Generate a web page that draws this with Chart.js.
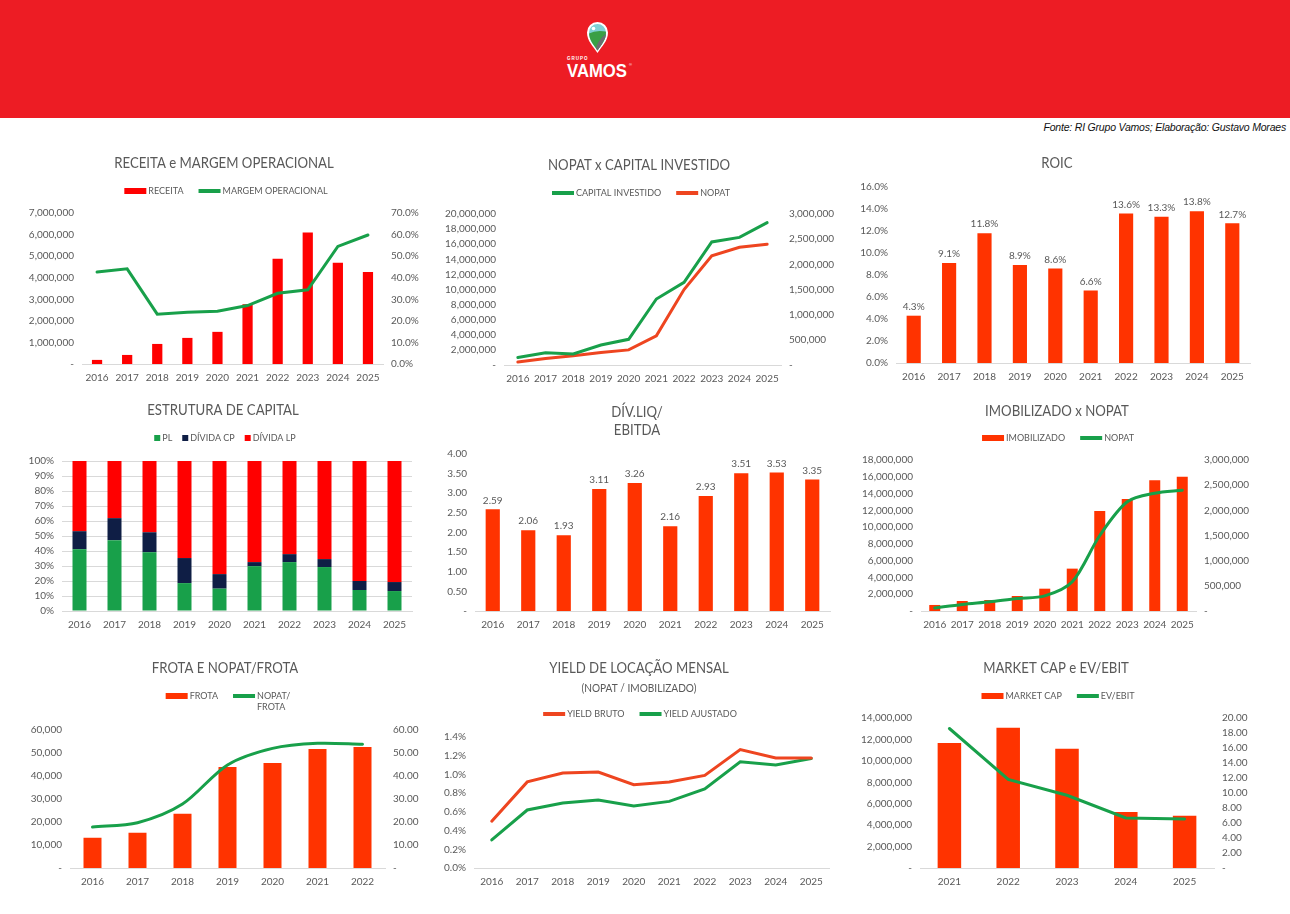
<!DOCTYPE html>
<html>
<head>
<meta charset="utf-8">
<title>Grupo Vamos</title>
<script src="https://cdn.jsdelivr.net/npm/chart.js@4.4.1/dist/chart.umd.min.js"></script>
<style>
html, body { margin: 0; padding: 0; background: #fff; }
body { width: 1290px; height: 914px; position: relative; overflow: hidden; font-family: Lato, sans-serif; }
#header { position: absolute; left: 0; top: 0; width: 1290px; height: 118px; background: #ED1C24; }
#logo { position: absolute; left: 560px; top: 15px; }
#fonte { position: absolute; right: 4px; top: 121px; font: italic 10.5px 'Liberation Sans Narrow', 'Liberation Sans', sans-serif; color: #111; letter-spacing: -0.2px; }
canvas { position: absolute; }
</style>
</head>
<body>
<div id="header"></div>
<svg id="logo" width="80" height="70" viewBox="0 0 80 70">
  <defs>
    <clipPath id="pin"><path d="M37.5 35.5 C34 30 29 25.5 29 17.5 A8.5 8.5 0 1 1 46 17.5 C46 25.5 41 30 37.5 35.5 Z"/></clipPath>
  </defs>
  <path d="M37.5 38 C33 31 27 26 27 17.5 A10.5 10.5 0 1 1 48 17.5 C48 26 42 31 37.5 38 Z" fill="#fff"/>
  <g clip-path="url(#pin)">
    <rect x="27" y="6" width="22" height="32" fill="#7FD0D6"/>
    <path d="M27 20 Q34 14 49 17 L49 38 L27 38 Z" fill="#3A9F45"/>
    <path d="M35 38 Q36 26 47 18 L49 19.5 Q40 27 40.5 38 Z" fill="#6B6D70"/>
  </g>
  <circle cx="33.5" cy="13.5" r="1.8" fill="#fff"/>
  <text x="7" y="45" font-family="Liberation Sans" font-weight="bold" font-size="4.5" fill="#fff" letter-spacing="1">GRUPO</text>
  <text x="7" y="62" font-family="Liberation Sans" font-weight="bold" font-size="19" fill="#fff" textLength="60" lengthAdjust="spacingAndGlyphs">VAMOS</text>
  <text x="69" y="51" font-family="Liberation Sans" font-size="4" fill="#fff">®</text>
</svg>
<div id="fonte">Fonte: RI Grupo Vamos; Elaboração: Gustavo Moraes</div>

<canvas id="c1"></canvas>
<canvas id="c2"></canvas>
<canvas id="c3"></canvas>
<canvas id="c4"></canvas>
<canvas id="c5"></canvas>
<canvas id="c6"></canvas>
<canvas id="c7"></canvas>
<canvas id="c8"></canvas>
<canvas id="c9"></canvas>

<script>
// ---- data ----
const years = ['2016', '2017', '2018', '2019', '2020', '2021', '2022', '2023', '2024', '2025'];
const receita = [190000, 420000, 930000, 1210000, 1490000, 2770000, 4880000, 6100000, 4690000, 4270000];
const margemOperacional = [42.6, 44.1, 23.1, 24.0, 24.5, 27.1, 32.8, 34.4, 54.5, 59.8];
const capitalInvestido = [1000000, 1630000, 1460000, 2650000, 3400000, 8740000, 10950000, 16300000, 16900000, 18850000];
const nopat = [60000, 130000, 185000, 250000, 300000, 580000, 1500000, 2170000, 2340000, 2400000];
const roic = [4.3, 9.1, 11.8, 8.9, 8.6, 6.6, 13.6, 13.3, 13.8, 12.7];
const pl = [41.2, 47.2, 39.2, 18.6, 14.9, 29.9, 32.6, 29.3, 14.0, 13.3];
const dividaCP = [12.0, 14.7, 13.3, 16.7, 9.7, 2.7, 5.3, 5.3, 6.0, 6.0];
const dividaLP = [46.8, 38.1, 47.5, 64.7, 75.4, 67.4, 62.1, 65.4, 80.0, 80.7];
const divLiqEbitda = [2.59, 2.06, 1.93, 3.11, 3.26, 2.16, 2.93, 3.51, 3.53, 3.35];
const imobilizado = [720000, 1190000, 1310000, 1790000, 2660000, 5050000, 11920000, 13350000, 15600000, 16000000];
const frotaYears = ['2016', '2017', '2018', '2019', '2020', '2021', '2022'];
const frota = [13150, 15330, 23570, 43950, 45690, 51760, 52630];
const nopatFrota = [17.8, 19.7, 27.8, 44.8, 52.0, 54.2, 53.8];
const yieldBruto = [0.50, 0.92, 1.015, 1.025, 0.89, 0.92, 0.99, 1.265, 1.175, 1.175];
const yieldAjustado = [0.30, 0.62, 0.695, 0.727, 0.663, 0.712, 0.844, 1.136, 1.10, 1.17];
const mktYears = ['2021', '2022', '2023', '2024', '2025'];
const marketCap = [11670000, 13100000, 11140000, 5230000, 4880000];
const evEbit = [18.6, 11.8, 9.7, 6.67, 6.53];

// ---- look ----
const GRAY = '#595959';
const AXIS = '#D9D9D9';
const FONT = 'Lato';
const RED = '#FF0000';
const ORANGE = '#FF3300';
const LINE_ORANGE = '#EE4520';
const GREEN = '#18A04A';
const NAVY = '#0F1E45';

const num = v => v === 0 ? '-' : v.toLocaleString('en-US');
const dec2 = v => v === 0 ? '-' : v.toFixed(2);
const pct1 = v => v.toFixed(1) + '%';

// title + legend drawn at page coordinates
const headerPlugin = {
    id: 'header',
    afterDraw(chart, args, o) {
        const ctx = chart.ctx;
        const b = o.box;
        ctx.save();
        ctx.fillStyle = GRAY;
        ctx.textAlign = 'center';
        ctx.textBaseline = 'middle';
        ctx.font = '15px ' + FONT;
        // the original titles use a narrower face, squeeze a bit
        o.title.forEach((t, i) => {
            ctx.fillText(t, o.titleX - b.x, o.titleY - b.y + i * 18, ctx.measureText(t).width * 0.88);
        });
        if (o.subtitle) {
            ctx.font = '11px ' + FONT;
            ctx.fillText(o.subtitle, o.titleX - b.x, o.subtitleY - b.y, ctx.measureText(o.subtitle).width * 0.92);
        }
        if (o.legend) {
            const sq = o.legend.square;
            ctx.font = '9px ' + FONT;
            ctx.textAlign = 'left';
            const items = chart.data.datasets.map(ds => {
                const isLine = (ds.type || chart.config.type) === 'line';
                const lines = ds.label.split('\n');
                return {
                    lines: lines,
                    isLine: isLine,
                    color: isLine ? ds.borderColor : ds.backgroundColor,
                    sw: sq ? 6 : 22,
                    tw: Math.max(...lines.map(l => ctx.measureText(l).width))
                };
            });
            const gap = 2, space = sq ? 10 : 15;
            const total = items.reduce((s, it) => s + it.sw + gap + it.tw, 0) + space * (items.length - 1);
            let x = o.legend.x - b.x - total / 2;
            const y = o.legend.y - b.y;
            items.forEach(it => {
                ctx.fillStyle = it.color;
                if (it.isLine) ctx.fillRect(x, y - 2, it.sw, 4);
                else ctx.fillRect(x, y - 3, it.sw, 6);
                ctx.fillStyle = GRAY;
                it.lines.forEach((l, i) => ctx.fillText(l, x + it.sw + gap, y + i * 11));
                x += it.sw + gap + it.tw + space;
            });
        }
        ctx.restore();
    }
};

// value labels above bars
const barLabelPlugin = {
    id: 'barLabels',
    afterDatasetsDraw(chart, args, o) {
        if (!o.fmt) return;
        const ctx = chart.ctx;
        const data = chart.data.datasets[0].data;
        ctx.save();
        ctx.fillStyle = GRAY;
        ctx.font = '10px ' + FONT;
        ctx.textAlign = 'center';
        ctx.textBaseline = 'bottom';
        chart.getDatasetMeta(0).data.forEach((bar, i) => {
            ctx.fillText(o.fmt(data[i]), bar.x, bar.y - 4);
        });
        ctx.restore();
    }
};

function yAxis(pos, width, min, max, step, fmt, grid) {
    return {
        position: pos,
        min: min,
        max: max,
        grid: { display: !!grid, drawTicks: false, color: AXIS },
        border: { display: false },
        ticks: { stepSize: step, autoSkip: false, color: GRAY, font: { family: FONT, size: 10 }, padding: 8, callback: fmt },
        afterFit: s => { s.width = width; }
    };
}

function makeChart(spec) {
    const cv = document.getElementById(spec.id);
    const b = spec.box, p = spec.plot;
    cv.width = b.w;
    cv.height = b.h;
    cv.style.left = b.x + 'px';
    cv.style.top = b.y + 'px';

    const scales = {
        x: {
            offset: true,
            stacked: !!spec.stacked,
            grid: { display: false, drawTicks: false },
            border: { display: true, color: AXIS },
            ticks: { color: GRAY, font: { family: FONT, size: 10 }, padding: 8, maxRotation: 0, autoSkip: false },
            afterFit: s => { s.height = b.y + b.h - p.b; }
        },
        y: Object.assign(yAxis('left', p.l - b.x, spec.y.min, spec.y.max, spec.y.step, spec.y.fmt, spec.y.grid), { stacked: !!spec.stacked })
    };
    let padRight = 0;
    if (spec.y2) {
        scales.y2 = yAxis('right', b.x + b.w - p.r, spec.y2.min, spec.y2.max, spec.y2.step, spec.y2.fmt, false);
    } else {
        padRight = b.x + b.w - p.r;
    }

    return new Chart(cv, {
        type: spec.type,
        data: { labels: spec.labels, datasets: spec.datasets },
        options: {
            responsive: false,
            animation: false,
            layout: { padding: { left: 0, right: padRight, top: p.t - b.y, bottom: 0 } },
            scales: scales,
            plugins: {
                legend: { display: false },
                title: { display: false },
                tooltip: { enabled: false },
                header: Object.assign({ box: b }, spec.header),
                barLabels: { fmt: spec.barLabels }
            }
        },
        plugins: [headerPlugin, barLabelPlugin]
    });
}

function bars(label, data, color, axis, pct) {
    return { type: 'bar', label: label, data: data, backgroundColor: color, yAxisID: axis, order: 1,
             categoryPercentage: 1, barPercentage: pct || 0.4 };
}
function line(label, data, color, axis, tension) {
    return { type: 'line', label: label, data: data, borderColor: color, backgroundColor: color, yAxisID: axis,
             borderWidth: 3, pointRadius: 0, tension: tension || 0, order: 0, borderCapStyle: 'round' };
}

// row 1
makeChart({
    id: 'c1', type: 'bar', labels: years,
    box: { x: 10, y: 140, w: 430, h: 252 }, plot: { l: 82, t: 213, r: 383, b: 364 },
    header: { title: ['RECEITA e MARGEM OPERACIONAL'], titleX: 224, titleY: 163, legend: { x: 226, y: 191 } },
    y: { min: 0, max: 7000000, step: 1000000, fmt: num },
    y2: { min: 0, max: 70, step: 10, fmt: pct1 },
    datasets: [
        bars('RECEITA', receita, RED, 'y', 0.34),
        line('MARGEM OPERACIONAL', margemOperacional, GREEN, 'y2')
    ]
});

makeChart({
    id: 'c2', type: 'line', labels: years,
    box: { x: 440, y: 140, w: 420, h: 252 }, plot: { l: 504, t: 214, r: 781, b: 365 },
    header: { title: ['NOPAT x CAPITAL INVESTIDO'], titleX: 639, titleY: 165, legend: { x: 641, y: 193 } },
    y: { min: 0, max: 20000000, step: 2000000, fmt: num },
    y2: { min: 0, max: 3000000, step: 500000, fmt: num },
    datasets: [
        line('CAPITAL INVESTIDO', capitalInvestido, GREEN, 'y'),
        line('NOPAT', nopat, LINE_ORANGE, 'y2')
    ]
});

makeChart({
    id: 'c3', type: 'bar', labels: years,
    box: { x: 860, y: 140, w: 430, h: 252 }, plot: { l: 896, t: 187, r: 1250, b: 363 },
    header: { title: ['ROIC'], titleX: 1057, titleY: 163 },
    y: { min: 0, max: 16, step: 2, fmt: pct1 },
    barLabels: pct1,
    datasets: [bars('ROIC', roic, ORANGE, 'y')]
});

// row 2
makeChart({
    id: 'c4', type: 'bar', labels: years, stacked: true,
    box: { x: 10, y: 392, w: 430, h: 247 }, plot: { l: 62, t: 461, r: 412, b: 611 },
    header: { title: ['ESTRUTURA DE CAPITAL'], titleX: 223, titleY: 410, legend: { x: 225, y: 438, square: true } },
    y: { min: 0, max: 100, step: 10, fmt: v => v + '%', grid: true },
    datasets: [
        bars('PL', pl, GREEN, 'y'),
        bars('DÍVIDA CP', dividaCP, NAVY, 'y'),
        bars('DÍVIDA LP', dividaLP, RED, 'y')
    ]
});

makeChart({
    id: 'c5', type: 'bar', labels: years,
    box: { x: 440, y: 392, w: 420, h: 247 }, plot: { l: 475, t: 454, r: 830, b: 611 },
    header: { title: ['DÍV.LIQ/', 'EBITDA'], titleX: 637, titleY: 412 },
    y: { min: 0, max: 4, step: 0.5, fmt: dec2 },
    barLabels: v => v.toFixed(2),
    datasets: [bars('DÍV.LIQ/EBITDA', divLiqEbitda, ORANGE, 'y')]
});

makeChart({
    id: 'c6', type: 'bar', labels: years,
    box: { x: 860, y: 392, w: 430, h: 247 }, plot: { l: 921, t: 460, r: 1196, b: 611 },
    header: { title: ['IMOBILIZADO x NOPAT'], titleX: 1057, titleY: 411, legend: { x: 1058, y: 438 } },
    y: { min: 0, max: 18000000, step: 2000000, fmt: num },
    y2: { min: 0, max: 3000000, step: 500000, fmt: num },
    datasets: [
        bars('IMOBILIZADO', imobilizado, ORANGE, 'y'),
        line('NOPAT', nopat, GREEN, 'y2', 0.3)
    ]
});

// row 3
makeChart({
    id: 'c7', type: 'bar', labels: frotaYears,
    box: { x: 10, y: 645, w: 430, h: 251 }, plot: { l: 70, t: 730, r: 385, b: 868 },
    header: { title: ['FROTA E NOPAT/FROTA'], titleX: 225, titleY: 668, legend: { x: 228, y: 696 } },
    y: { min: 0, max: 60000, step: 10000, fmt: num },
    y2: { min: 0, max: 60, step: 10, fmt: dec2 },
    datasets: [
        bars('FROTA', frota, ORANGE, 'y'),
        line('NOPAT/\nFROTA', nopatFrota, GREEN, 'y2', 0.3)
    ]
});

makeChart({
    id: 'c8', type: 'line', labels: years,
    box: { x: 440, y: 645, w: 420, h: 251 }, plot: { l: 474, t: 737, r: 829, b: 868 },
    header: { title: ['YIELD DE LOCAÇÃO MENSAL'], titleX: 639, titleY: 668, subtitle: '(NOPAT / IMOBILIZADO)', subtitleY: 688, legend: { x: 640, y: 714 } },
    y: { min: 0, max: 1.4, step: 0.2, fmt: pct1 },
    datasets: [
        line('YIELD BRUTO', yieldBruto, LINE_ORANGE, 'y'),
        line('YIELD AJUSTADO', yieldAjustado, GREEN, 'y')
    ]
});

makeChart({
    id: 'c9', type: 'bar', labels: mktYears,
    box: { x: 860, y: 645, w: 430, h: 251 }, plot: { l: 920, t: 718, r: 1214, b: 868 },
    header: { title: ['MARKET CAP e EV/EBIT'], titleX: 1056, titleY: 668, legend: { x: 1058, y: 696 } },
    y: { min: 0, max: 14000000, step: 2000000, fmt: num },
    y2: { min: 0, max: 20, step: 2, fmt: dec2 },
    datasets: [
        bars('MARKET CAP', marketCap, ORANGE, 'y'),
        line('EV/EBIT', evEbit, GREEN, 'y2')
    ]
});
</script>
</body>
</html>
